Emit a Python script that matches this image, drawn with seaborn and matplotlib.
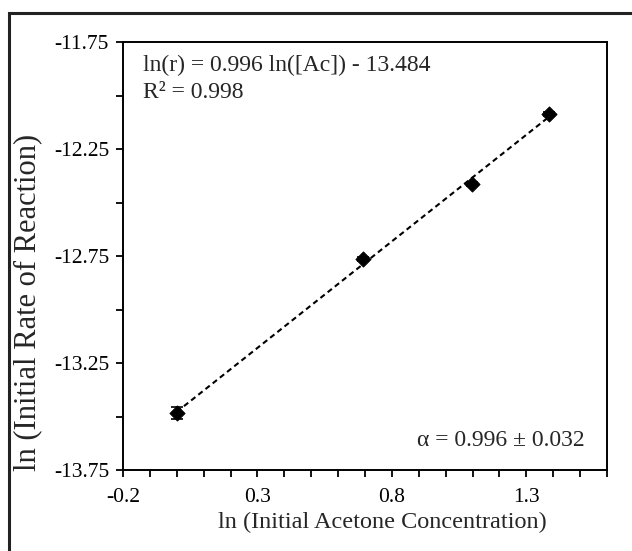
import numpy as np
import pandas as pd
import matplotlib
matplotlib.use("Agg")
import matplotlib.pyplot as plt
import seaborn as sns
from matplotlib.ticker import MultipleLocator, FixedLocator
from matplotlib.patches import Rectangle

# Data
ln_conc = [0.0, 0.693, 1.099, 1.386]
ln_rate = [-13.484, -12.764, -12.414, -12.086]
ln_rate_err = [0.028, 0.010, 0.010, 0.008]
eq_text = "ln(r) = 0.996 ln([Ac]) - 13.484"
r2_text = "R² = 0.998"
alpha_text = "α = 0.996 ± 0.032"
x_ticks = [-0.2, 0.3, 0.8, 1.3]
y_ticks = [-11.75, -12.25, -12.75, -13.25, -13.75]

df = pd.DataFrame({"x": ln_conc, "y": ln_rate, "err": ln_rate_err})

sns.set_style("white")
plt.rcParams["font.family"] = ["Liberation Serif", "DejaVu Serif"]
plt.rcParams["mathtext.fontset"] = "stix"

W, H = 632, 551
fig = plt.figure(figsize=(W / 100, H / 100), dpi=100)
ax = fig.add_axes([123 / W, 1 - 470 / H, (607 - 123) / W, (470 - 42) / H])

# outer frame
fig.patches.append(Rectangle((9 / W, -0.05), 1.2, 1 - 13 / H + 0.05, transform=fig.transFigure,
                             fill=False, edgecolor="#222222", linewidth=2.2, zorder=0))

# trendline
sns.regplot(data=df, x="x", y="y", ax=ax, ci=None, scatter=False, truncate=True,
            line_kws=dict(color="black", linestyle=(0, (2.6, 1.8)), linewidth=1.5))
# error bars
ax.errorbar(df["x"], df["y"], yerr=df["err"], fmt="none", ecolor="black",
            elinewidth=1.2, capsize=4, capthick=1.2, zorder=3)
sns.scatterplot(data=df, x="x", y="y", ax=ax, marker="D", s=60, color="black",
                edgecolor="black", zorder=4)

ax.set_xlim(-0.2, 1.6)
ax.set_ylim(-13.75, -11.75)
ax.xaxis.set_major_locator(FixedLocator(x_ticks))
ax.xaxis.set_minor_locator(MultipleLocator(0.1))
ax.yaxis.set_major_locator(FixedLocator(y_ticks))
ax.yaxis.set_minor_locator(FixedLocator(np.arange(-13.5, -11.9, 0.5)))
ax.set_xticklabels([f"{v:.1f}" for v in x_ticks])
ax.set_yticklabels([f"{v:.2f}" for v in y_ticks])
ax.tick_params(which="both", direction="out", length=5, width=1.3, color="black",
               labelsize=15.5, labelcolor="black", bottom=True, left=True)
ax.tick_params(axis="x", pad=8)
ax.tick_params(axis="y", pad=5)
for s in ax.spines.values():
    s.set_color("black")
    s.set_linewidth(1.4)

ax.set_xlabel("")
ax.set_ylabel("")
fig.text(382 / W, 1 - 522 / H, "ln (Initial Acetone Concentration)", ha="center", va="center",
         fontsize=17.5)
fig.text(28 / W, 1 - 302 / H, "ln (Initial Rate of Reaction)", ha="center", va="center",
         rotation=90, fontsize=22)

ax.text(143 / W, 1 - 65 / H, eq_text, transform=fig.transFigure, ha="left", va="center",
        fontsize=17)
ax.text(143 / W, 1 - 92 / H, r2_text, transform=fig.transFigure, ha="left", va="center",
        fontsize=17)
ax.text(585 / W, 1 - 441 / H, alpha_text, transform=fig.transFigure, ha="right", va="center",
        fontsize=17)

fig.savefig("out.png", dpi=100, facecolor="white")
